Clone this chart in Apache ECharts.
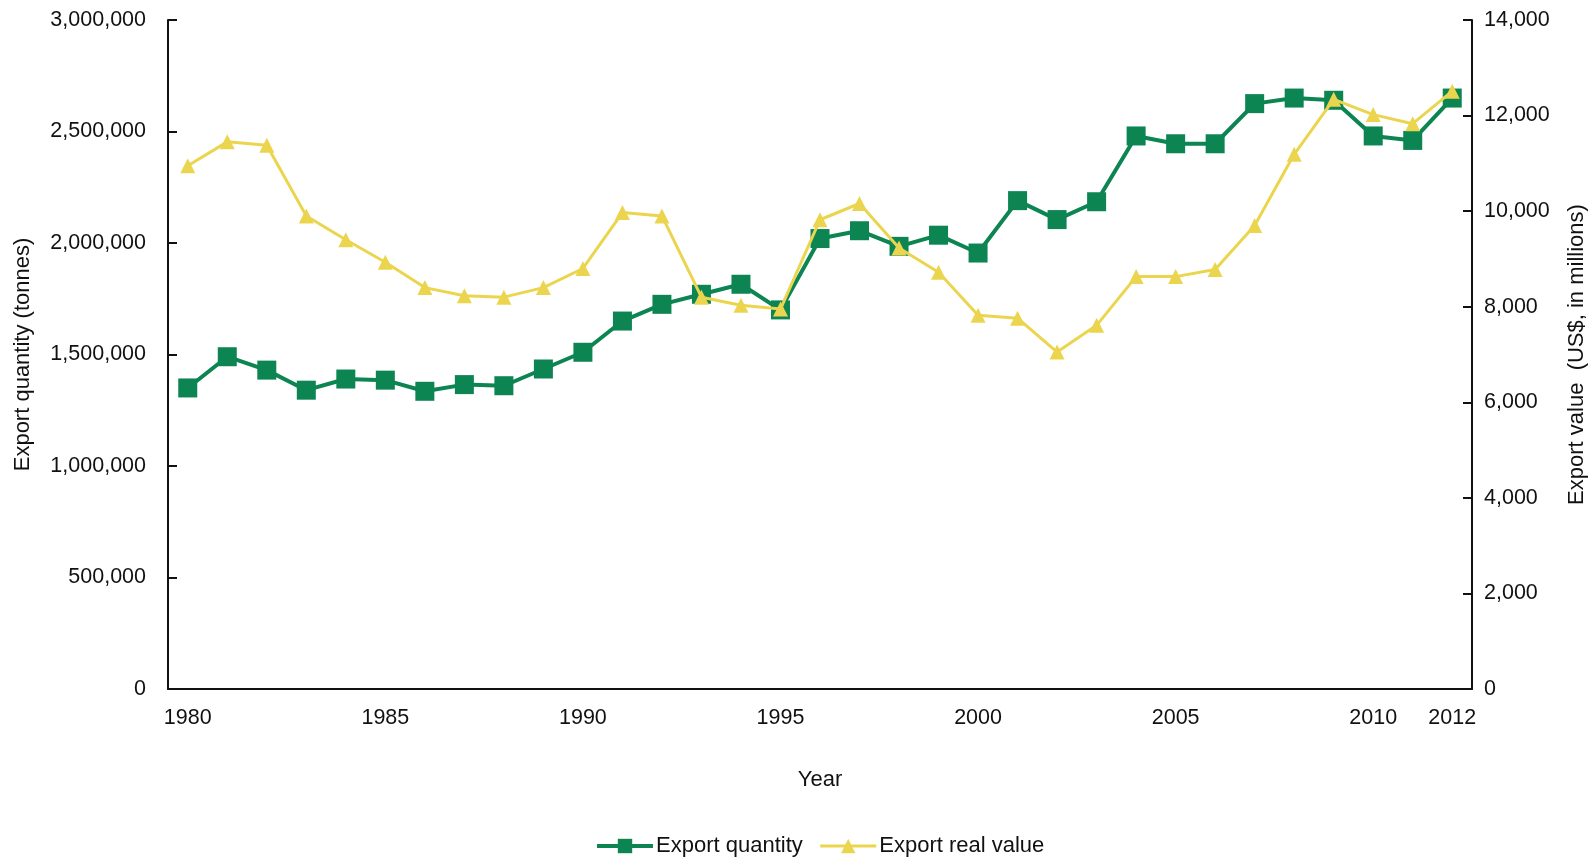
<!DOCTYPE html>
<html>
<head>
<meta charset="utf-8">
<script src="https://cdn.jsdelivr.net/npm/echarts@6/dist/echarts.min.js"></script>
<style>
html, body { margin: 0; padding: 0; background: #fff; }
#chart { width: 1596px; height: 859px; }
</style>
</head>
<body>
<div id="chart"></div>
<script>
var years = ['1980', '1981', '1982', '1983', '1984', '1985', '1986', '1987', '1988', '1989',
    '1990', '1991', '1992', '1993', '1994', '1995', '1996', '1997', '1998', '1999',
    '2000', '2001', '2002', '2003', '2004', '2005', '2006', '2007', '2008', '2009',
    '2010', '2011', '2012'];

// tonnes, left axis
var exportQuantity = [1350000, 1490000, 1430000, 1340000, 1390000, 1385000, 1335000, 1365000, 1360000, 1435000,
    1510000, 1650000, 1725000, 1770000, 1815000, 1700000, 2020000, 2055000, 1985000, 2035000,
    1955000, 2190000, 2105000, 2185000, 2480000, 2445000, 2445000, 2625000, 2650000, 2640000,
    2480000, 2460000, 2650000];

// US$ millions, right axis
var exportValue = [10950, 11450, 11380, 9900, 9400, 8930, 8400, 8230, 8200, 8400,
    8800, 9970, 9900, 8200, 8030, 7950, 9820, 10160, 9230, 8720,
    7820, 7760, 7050, 7610, 8630, 8630, 8780, 9700, 11190, 12340,
    12020, 11830, 12510];

var shownYears = ['1980', '1985', '1990', '1995', '2000', '2005', '2010', '2012'];

var dom = document.getElementById('chart');
var myChart = echarts.init(dom);

var fontFamily = '"Liberation Sans", Arial, sans-serif';
var axisColor = '#111';
var green = '#0c8552';
var yellow = '#ecd54e';

function showYear(idx) {
    return shownYears.indexOf(years[idx]) >= 0;
}

var option = {
    backgroundColor: '#fff',
    textStyle: { fontFamily: fontFamily },
    grid: {
        left: 168,
        right: 121,
        top: 20,
        bottom: 170
    },
    legend: {
        top: 830,
        left: 590,
        itemWidth: 56,
        itemHeight: 18,
        itemGap: 16,
        textStyle: { fontSize: 22, color: '#111', fontFamily: fontFamily, padding: [0, 0, 0, -2] },
        data: [
            { name: 'Export quantity', lineStyle: { width: 4 } },
            { name: 'Export real value', lineStyle: { width: 3 } }
        ]
    },
    xAxis: {
        type: 'category',
        data: years,
        boundaryGap: true,
        name: 'Year',
        nameLocation: 'middle',
        nameGap: 80,
        nameTextStyle: { fontSize: 22, color: '#111' },
        axisLine: { lineStyle: { color: axisColor, width: 2 } },
        axisTick: {
            inside: true,
            length: 9,
            alignWithLabel: true,
            interval: function (idx) { return showYear(idx); },
            lineStyle: { color: axisColor, width: 2 }
        },
        axisLabel: {
            interval: function (idx) { return showYear(idx); },
            fontSize: 21.5,
            color: '#111',
            margin: 18
        },
        splitLine: { show: false }
    },
    yAxis: [{
        type: 'value',
        min: 0,
        max: 3000000,
        interval: 500000,
        name: 'Export quantity (tonnes)',
        nameLocation: 'middle',
        nameGap: 134,
        nameRotate: 90,
        nameTextStyle: { fontSize: 22, color: '#111' },
        axisLine: { show: true, lineStyle: { color: axisColor, width: 2 } },
        axisTick: { show: true, inside: true, length: 9, lineStyle: { color: axisColor, width: 2 } },
        axisLabel: {
            fontSize: 21.5,
            color: '#111',
            margin: 22,
            formatter: function (v) { return v.toLocaleString('en-US'); }
        },
        splitLine: { show: false }
    }, {
        type: 'value',
        min: 0,
        max: 14000,
        interval: 2000,
        position: 'right',
        name: 'Export value  (US$, in millions)',
        nameLocation: 'middle',
        nameGap: 94,
        nameRotate: 90,
        nameTextStyle: { fontSize: 22, color: '#111' },
        axisLine: { show: true, lineStyle: { color: axisColor, width: 2 } },
        axisTick: { show: true, inside: true, length: 9, lineStyle: { color: axisColor, width: 2 } },
        axisLabel: {
            fontSize: 21.5,
            color: '#111',
            margin: 12,
            formatter: function (v) { return v.toLocaleString('en-US'); }
        },
        splitLine: { show: false }
    }],
    series: [{
        name: 'Export quantity',
        type: 'line',
        yAxisIndex: 0,
        data: exportQuantity,
        symbol: 'rect',
        symbolSize: 19,
        lineStyle: { color: green, width: 4 },
        itemStyle: { color: green },
        z: 2
    }, {
        name: 'Export real value',
        type: 'line',
        yAxisIndex: 1,
        data: exportValue,
        symbol: 'triangle',
        symbolSize: 15,
        lineStyle: { color: yellow, width: 3 },
        itemStyle: { color: yellow },
        z: 3
    }],
    animation: false
};

myChart.setOption(option);

window.addEventListener('resize', function () {
    myChart.resize();
});
</script>
</body>
</html>
